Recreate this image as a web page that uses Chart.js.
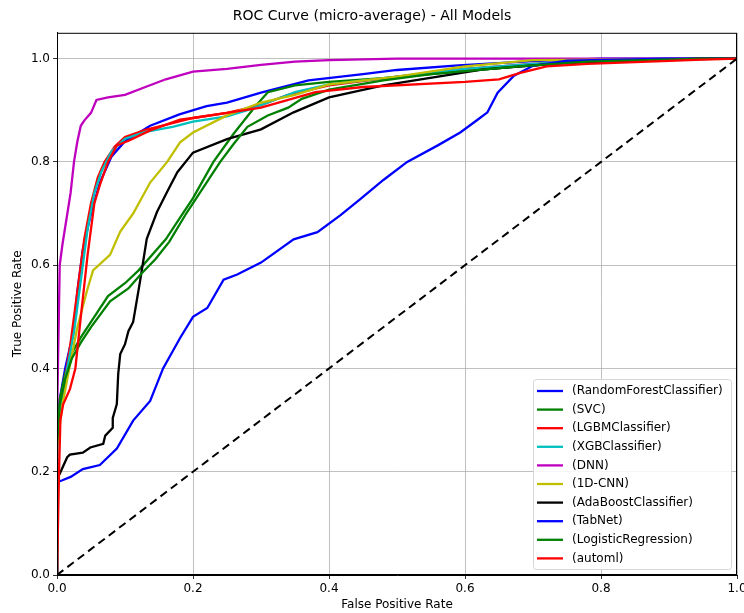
<!DOCTYPE html>
<html>
<head>
<meta charset="utf-8">
<script src="https://cdn.jsdelivr.net/npm/chart.js@4.4.1/dist/chart.umd.min.js"></script>
<style>
    body { margin: 0; background: #fff; }
    #wrap { width: 744px; height: 613px; }
</style>
</head>
<body>
<div id="wrap"><canvas id="rocChart"></canvas></div>
<script>
// Tick positions for both axes
const xTicks = [0, 0.2, 0.4, 0.6, 0.8, 1.0];
const yTicks = [0, 0.2, 0.4, 0.6, 0.8, 1.0];

// Model names in legend order
const modelNames = [
    '(RandomForestClassifier)', '(SVC)', '(LGBMClassifier)', '(XGBClassifier)', '(DNN)',
    '(1D-CNN)', '(AdaBoostClassifier)', '(TabNet)', '(LogisticRegression)', '(automl)'
];
const modelColors = ['#0000ff', '#008000', '#ff0000', '#00bfbf', '#bf00bf',
                     '#bfbf00', '#000000', '#0000ff', '#008000', '#ff0000'];

// ROC points [fpr, tpr]
const rfRoc = [[0,0],[0,0.28],[0.004,0.34],[0.012,0.40],[0.024,0.47],[0.03,0.55],[0.038,0.63],[0.05,0.70],
    [0.063,0.76],[0.08,0.81],[0.1,0.84],[0.137,0.87],[0.18,0.892],[0.22,0.908],[0.25,0.915],[0.3,0.934],
    [0.37,0.958],[0.45,0.97],[0.5,0.978],[0.59,0.987],[0.7,0.995],[0.8,1],[1,1]];
const svcRoc = [[0,0],[0,0.26],[0.004,0.34],[0.012,0.39],[0.022,0.43],[0.035,0.46],[0.05,0.49],[0.075,0.54],
    [0.1,0.565],[0.12,0.59],[0.14,0.62],[0.16,0.65],[0.18,0.69],[0.2,0.73],[0.23,0.8],[0.26,0.855],
    [0.29,0.905],[0.31,0.935],[0.35,0.948],[0.4,0.955],[0.48,0.962],[0.55,0.97],[0.68,0.985],[0.78,0.994],
    [0.95,1],[1,1]];
const lgbmRoc = [[0,0],[0,0.3],[0.006,0.33],[0.012,0.38],[0.02,0.45],[0.03,0.55],[0.04,0.65],[0.05,0.72],
    [0.06,0.77],[0.07,0.8],[0.085,0.83],[0.1,0.848],[0.13,0.862],[0.17,0.875],[0.2,0.885],[0.25,0.895],
    [0.3,0.91],[0.34,0.93],[0.4,0.948],[0.5,0.965],[0.6,0.98],[0.7,0.99],[0.8,0.997],[1,1]];
const xgbRoc = [[0,0],[0,0.28],[0.005,0.33],[0.015,0.4],[0.025,0.47],[0.035,0.57],[0.045,0.67],[0.055,0.74],
    [0.065,0.78],[0.08,0.82],[0.1,0.845],[0.13,0.858],[0.17,0.868],[0.2,0.878],[0.25,0.888],[0.28,0.9],
    [0.35,0.935],[0.4,0.95],[0.5,0.965],[0.6,0.98],[0.7,0.99],[0.8,0.997],[1,1]];
const dnnRoc = [[0,0],[0,0.3],[0.002,0.45],[0.004,0.6],[0.008,0.64],[0.014,0.69],[0.02,0.74],[0.025,0.8],
    [0.03,0.84],[0.035,0.87],[0.04,0.88],[0.05,0.895],[0.058,0.92],[0.075,0.925],[0.1,0.93],[0.13,0.945],
    [0.16,0.96],[0.2,0.975],[0.25,0.98],[0.3,0.988],[0.35,0.994],[0.4,0.997],[0.5,1],[1,1]];
const cnnRoc = [[0,0],[0,0.25],[0.008,0.33],[0.018,0.4],[0.03,0.48],[0.044,0.55],[0.053,0.59],[0.078,0.62],
    [0.093,0.665],[0.112,0.70],[0.137,0.76],[0.162,0.8],[0.181,0.838],[0.2,0.857],[0.25,0.89],[0.3,0.915],
    [0.35,0.93],[0.4,0.95],[0.5,0.965],[0.6,0.985],[0.7,0.997],[1,1]];
const adaRoc = [[0,0],[0,0.19],[0.004,0.196],[0.015,0.228],[0.019,0.233],[0.038,0.237],[0.049,0.247],
    [0.068,0.254],[0.071,0.27],[0.082,0.285],[0.082,0.304],[0.088,0.331],[0.09,0.389],[0.093,0.428],
    [0.1,0.447],[0.105,0.472],[0.112,0.49],[0.122,0.568],[0.132,0.651],[0.147,0.703],[0.162,0.742],
    [0.177,0.78],[0.2,0.818],[0.25,0.844],[0.3,0.863],[0.348,0.896],[0.4,0.925],[0.48,0.948],[0.627,0.979],
    [0.75,0.992],[0.95,1],[1,1]];
const tabnetRoc = [[0,0],[0,0.18],[0.007,0.183],[0.02,0.19],[0.038,0.205],[0.063,0.213],[0.088,0.245],
    [0.112,0.299],[0.137,0.337],[0.156,0.4],[0.181,0.459],[0.2,0.5],[0.221,0.517],[0.245,0.572],[0.265,0.582],
    [0.3,0.605],[0.348,0.65],[0.383,0.664],[0.417,0.697],[0.446,0.728],[0.48,0.765],[0.515,0.8],[0.56,0.832],
    [0.593,0.857],[0.619,0.882],[0.633,0.896],[0.648,0.934],[0.672,0.967],[0.7,0.986],[0.75,0.996],[0.9,1],[1,1]];
const logregRoc = [[0,0],[0,0.25],[0.004,0.33],[0.012,0.38],[0.022,0.42],[0.035,0.45],[0.05,0.48],[0.078,0.53],
    [0.105,0.555],[0.125,0.585],[0.145,0.612],[0.165,0.645],[0.19,0.7],[0.21,0.74],[0.24,0.8],[0.26,0.835],
    [0.28,0.868],[0.31,0.89],[0.34,0.905],[0.36,0.922],[0.4,0.94],[0.48,0.958],[0.55,0.97],[0.68,0.985],
    [0.78,0.994],[0.95,1],[1,1]];
const automlRoc = [[0,0],[0.003,0.2],[0.005,0.3],[0.009,0.33],[0.019,0.36],[0.027,0.4],[0.035,0.5],
    [0.045,0.62],[0.055,0.72],[0.063,0.755],[0.075,0.8],[0.088,0.832],[0.107,0.842],[0.137,0.861],
    [0.181,0.882],[0.2,0.885],[0.25,0.895],[0.3,0.905],[0.38,0.935],[0.45,0.945],[0.6,0.955],[0.65,0.96],
    [0.68,0.972],[0.72,0.985],[0.78,0.99],[0.95,0.998],[1,1]];
const chanceLine = [[0,0],[1,1]];

const rocSeries = [rfRoc, svcRoc, lgbmRoc, xgbRoc, dnnRoc, cnnRoc, adaRoc, tabnetRoc, logregRoc, automlRoc];

Chart.defaults.font.family = "'DejaVu Sans', sans-serif";
Chart.defaults.color = '#000';

const toXY = pts => pts.map(p => ({ x: p[0], y: p[1] }));

const datasets = rocSeries.map((pts, i) => ({
    label: modelNames[i],
    data: toXY(pts),
    borderColor: modelColors[i],
    backgroundColor: modelColors[i],
    borderWidth: 2.3,
    showLine: true,
    pointRadius: 0,
    tension: 0,
    order: 20 - i // later models drawn on top, like matplotlib
}));
datasets.push({
    label: 'chance',
    data: toXY(chanceLine),
    borderColor: '#000',
    borderWidth: 2,
    borderDash: [8, 5],
    showLine: true,
    pointRadius: 0,
    order: 0
});

// Frame on all four sides
const framePlugin = {
    id: 'frame',
    afterDatasetsDraw(chart) {
        const a = chart.chartArea, c = chart.ctx;
        c.save();
        c.strokeStyle = '#000';
        c.lineWidth = 1;
        c.strokeRect(a.left + 0.5, a.top + 0.5, a.right - a.left - 1, a.bottom - a.top - 1);
        c.restore();
    }
};

// Legend inside the lower right corner
const innerLegend = {
    id: 'innerLegend',
    afterDraw(chart) {
        const a = chart.chartArea, c = chart.ctx;
        const w = 198, rowH = 18.6, h = 190;
        const x0 = a.right - 6 - w, y0 = a.bottom - 6 - h;
        c.save();
        c.beginPath();
        c.roundRect(x0 + 0.5, y0 + 0.5, w, h, 3);
        c.fillStyle = 'rgba(255,255,255,0.85)';
        c.fill();
        c.strokeStyle = '#d6d6d6';
        c.lineWidth = 1;
        c.stroke();
        c.font = "12px 'DejaVu Sans'";
        c.textBaseline = 'middle';
        modelNames.forEach((name, i) => {
            const y = y0 + 12 + i * rowH;
            c.beginPath();
            c.moveTo(x0 + 4, y);
            c.lineTo(x0 + 30, y);
            c.strokeStyle = modelColors[i];
            c.lineWidth = 2.3;
            c.stroke();
            c.fillStyle = '#000';
            c.fillText(name, x0 + 39, y);
        });
        c.restore();
    }
};

const gridOpts = { color: '#b0b0b0', lineWidth: 0.8, tickColor: '#000', tickLength: 4 };

new Chart(document.getElementById('rocChart').getContext('2d'), {
    type: 'scatter',
    data: { datasets: datasets },
    options: {
        responsive: true,
        maintainAspectRatio: false,
        animation: false,
        layout: { padding: 0 },
        scales: {
            x: {
                type: 'linear',
                min: 0,
                max: 1,
                afterBuildTicks: s => { s.ticks = xTicks.map(v => ({ value: v })); },
                afterFit: s => { s.height = 38; s.paddingRight = 7; s.paddingLeft = 0; },
                ticks: { callback: v => v.toFixed(1), font: { size: 12 }, padding: 3, maxRotation: 0 },
                grid: gridOpts,
                border: { color: '#000', width: 1 },
                title: { display: true, text: 'False Positive Rate', font: { size: 12 }, padding: { top: 0, bottom: 1 } }
            },
            y: {
                min: 0,
                max: 1.05,
                afterBuildTicks: s => { s.ticks = yTicks.map(v => ({ value: v })); },
                afterFit: s => { s.width = 57; },
                ticks: { callback: v => v.toFixed(1), font: { size: 12 }, padding: 3 },
                grid: gridOpts,
                border: { color: '#000', width: 1 },
                title: { display: true, text: 'True Positive Rate', font: { size: 12 }, padding: { top: 11, bottom: 0 } }
            }
        },
        plugins: {
            legend: { display: false },
            tooltip: { enabled: false },
            title: {
                display: true,
                text: 'ROC Curve (micro-average) - All Models',
                font: { size: 14, weight: 'normal' },
                padding: { top: 8, bottom: 8 }
            }
        }
    },
    plugins: [framePlugin, innerLegend]
});
</script>
</body>
</html>
